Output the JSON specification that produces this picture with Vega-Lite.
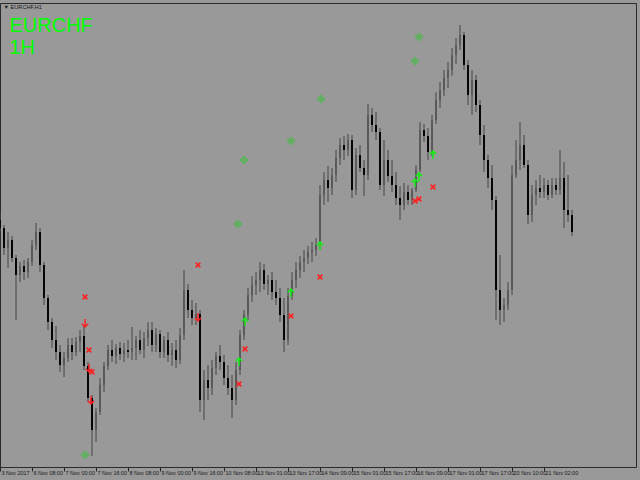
{
  "$schema": "https://vega.github.io/schema/vega-lite/v6.json",
  "width": 636,
  "height": 464,
  "autosize": {"type": "none"},
  "padding": {"left": 0, "right": 4, "top": 3, "bottom": 13},
  "background": "#999999",
  "config": {
    "view": {"stroke": "#2b2b2b", "strokeWidth": 1, "fill": "#999999"},
    "axisY": {
      "domain": false, "ticks": false, "labels": false, "grid": false,
      "titleAngle": 0,
      "titleAlign": "left",
      "titleBaseline": "alphabetic",
      "titleX": 9,
      "titleY": 28.5,
      "titleColor": "#00ff00",
      "titleFont": "Liberation Sans",
      "titleFontSize": 20,
      "titleFontWeight": "normal",
      "titleLineHeight": 22
    }
  },
  "datasets": {
    "candles": [
      {"i":0,"o":260,"h":268,"l":248,"c":252},
      {"i":2,"o":252,"h":255,"l":225,"c":232},
      {"i":4,"o":232,"h":248,"l":212,"c":240},
      {"i":6,"o":240,"h":244,"l":218,"c":222},
      {"i":8,"o":222,"h":225,"l":160,"c":205},
      {"i":10,"o":205,"h":218,"l":198,"c":214},
      {"i":12,"o":214,"h":220,"l":200,"c":208},
      {"i":14,"o":208,"h":222,"l":202,"c":218},
      {"i":16,"o":218,"h":240,"l":214,"c":235},
      {"i":18,"o":235,"h":257,"l":230,"c":248},
      {"i":20,"o":248,"h":252,"l":208,"c":215},
      {"i":22,"o":215,"h":218,"l":175,"c":182},
      {"i":24,"o":182,"h":185,"l":150,"c":158},
      {"i":26,"o":158,"h":162,"l":132,"c":140},
      {"i":28,"o":140,"h":154,"l":120,"c":128},
      {"i":30,"o":128,"h":135,"l":108,"c":115},
      {"i":32,"o":115,"h":128,"l":103,"c":122},
      {"i":34,"o":122,"h":142,"l":118,"c":135},
      {"i":36,"o":135,"h":142,"l":120,"c":128},
      {"i":38,"o":128,"h":143,"l":124,"c":138},
      {"i":40,"o":138,"h":150,"l":128,"c":144},
      {"i":42,"o":144,"h":155,"l":110,"c":114},
      {"i":44,"o":114,"h":118,"l":78,"c":82},
      {"i":46,"o":82,"h":85,"l":24,"c":50},
      {"i":48,"o":50,"h":72,"l":38,"c":68},
      {"i":50,"o":68,"h":102,"l":65,"c":95},
      {"i":52,"o":95,"h":118,"l":88,"c":114},
      {"i":54,"o":114,"h":135,"l":110,"c":130},
      {"i":56,"o":130,"h":140,"l":118,"c":124},
      {"i":58,"o":124,"h":136,"l":116,"c":132},
      {"i":60,"o":132,"h":138,"l":120,"c":126},
      {"i":62,"o":126,"h":137,"l":118,"c":130},
      {"i":64,"o":130,"h":140,"l":122,"c":128},
      {"i":66,"o":128,"h":153,"l":120,"c":132},
      {"i":68,"o":132,"h":144,"l":120,"c":140},
      {"i":70,"o":140,"h":150,"l":126,"c":130},
      {"i":72,"o":130,"h":148,"l":122,"c":142},
      {"i":74,"o":142,"h":158,"l":134,"c":150},
      {"i":76,"o":150,"h":158,"l":128,"c":135},
      {"i":78,"o":135,"h":152,"l":128,"c":146},
      {"i":80,"o":146,"h":150,"l":122,"c":128},
      {"i":82,"o":128,"h":144,"l":122,"c":140},
      {"i":84,"o":140,"h":148,"l":118,"c":125},
      {"i":86,"o":125,"h":137,"l":114,"c":130},
      {"i":88,"o":130,"h":140,"l":112,"c":120},
      {"i":90,"o":120,"h":152,"l":116,"c":145},
      {"i":92,"o":145,"h":210,"l":140,"c":190},
      {"i":94,"o":190,"h":196,"l":162,"c":170},
      {"i":96,"o":170,"h":180,"l":155,"c":162},
      {"i":98,"o":162,"h":177,"l":155,"c":166},
      {"i":100,"o":166,"h":170,"l":68,"c":80},
      {"i":102,"o":80,"h":110,"l":60,"c":100},
      {"i":104,"o":100,"h":115,"l":80,"c":92},
      {"i":106,"o":92,"h":120,"l":85,"c":112},
      {"i":108,"o":112,"h":128,"l":105,"c":124},
      {"i":110,"o":124,"h":135,"l":110,"c":118},
      {"i":112,"o":118,"h":125,"l":95,"c":102},
      {"i":114,"o":102,"h":115,"l":85,"c":92},
      {"i":116,"o":92,"h":105,"l":62,"c":80},
      {"i":118,"o":80,"h":118,"l":75,"c":110},
      {"i":120,"o":110,"h":150,"l":105,"c":145},
      {"i":122,"o":145,"h":170,"l":140,"c":165},
      {"i":124,"o":165,"h":192,"l":160,"c":185},
      {"i":126,"o":185,"h":204,"l":178,"c":195},
      {"i":128,"o":195,"h":208,"l":185,"c":200},
      {"i":130,"o":200,"h":218,"l":188,"c":210},
      {"i":132,"o":210,"h":216,"l":190,"c":196},
      {"i":134,"o":196,"h":205,"l":185,"c":200},
      {"i":136,"o":200,"h":208,"l":180,"c":188},
      {"i":138,"o":188,"h":200,"l":175,"c":182},
      {"i":140,"o":182,"h":192,"l":158,"c":165},
      {"i":142,"o":165,"h":182,"l":128,"c":140},
      {"i":144,"o":140,"h":192,"l":135,"c":184},
      {"i":146,"o":184,"h":208,"l":180,"c":200},
      {"i":148,"o":200,"h":218,"l":192,"c":210},
      {"i":150,"o":210,"h":224,"l":202,"c":218},
      {"i":152,"o":218,"h":230,"l":208,"c":222},
      {"i":154,"o":222,"h":234,"l":216,"c":228},
      {"i":156,"o":228,"h":238,"l":218,"c":230},
      {"i":158,"o":230,"h":242,"l":224,"c":235},
      {"i":160,"o":235,"h":295,"l":230,"c":285},
      {"i":162,"o":285,"h":308,"l":275,"c":300},
      {"i":164,"o":300,"h":314,"l":278,"c":292},
      {"i":166,"o":292,"h":312,"l":285,"c":305},
      {"i":168,"o":305,"h":330,"l":298,"c":322},
      {"i":170,"o":322,"h":342,"l":315,"c":335},
      {"i":172,"o":335,"h":344,"l":320,"c":330},
      {"i":174,"o":330,"h":346,"l":324,"c":340},
      {"i":176,"o":340,"h":345,"l":282,"c":290},
      {"i":178,"o":290,"h":332,"l":285,"c":325},
      {"i":180,"o":325,"h":335,"l":308,"c":312},
      {"i":182,"o":312,"h":320,"l":284,"c":305},
      {"i":184,"o":305,"h":376,"l":300,"c":365},
      {"i":186,"o":365,"h":372,"l":348,"c":355},
      {"i":188,"o":355,"h":368,"l":340,"c":348},
      {"i":190,"o":348,"h":352,"l":290,"c":295},
      {"i":192,"o":295,"h":340,"l":284,"c":320},
      {"i":194,"o":320,"h":330,"l":298,"c":304},
      {"i":196,"o":304,"h":320,"l":288,"c":295},
      {"i":198,"o":295,"h":308,"l":275,"c":282},
      {"i":200,"o":282,"h":294,"l":260,"c":275},
      {"i":202,"o":275,"h":297,"l":270,"c":288},
      {"i":204,"o":288,"h":295,"l":275,"c":280},
      {"i":206,"o":280,"h":292,"l":275,"c":290},
      {"i":208,"o":290,"h":315,"l":288,"c":310},
      {"i":210,"o":310,"h":358,"l":308,"c":350},
      {"i":212,"o":350,"h":356,"l":338,"c":344},
      {"i":214,"o":344,"h":352,"l":320,"c":328},
      {"i":216,"o":328,"h":365,"l":324,"c":360},
      {"i":218,"o":360,"h":388,"l":356,"c":380},
      {"i":220,"o":380,"h":398,"l":372,"c":390},
      {"i":222,"o":390,"h":410,"l":384,"c":402},
      {"i":224,"o":402,"h":418,"l":392,"c":410},
      {"i":226,"o":410,"h":432,"l":404,"c":425},
      {"i":228,"o":425,"h":442,"l":416,"c":435},
      {"i":230,"o":435,"h":455,"l":430,"c":445},
      {"i":232,"o":445,"h":448,"l":410,"c":415},
      {"i":234,"o":415,"h":420,"l":375,"c":385},
      {"i":236,"o":385,"h":410,"l":365,"c":400},
      {"i":238,"o":400,"h":405,"l":368,"c":375},
      {"i":240,"o":375,"h":380,"l":335,"c":345},
      {"i":242,"o":345,"h":355,"l":308,"c":320},
      {"i":244,"o":320,"h":325,"l":292,"c":302},
      {"i":246,"o":302,"h":315,"l":270,"c":280},
      {"i":248,"o":280,"h":284,"l":160,"c":190},
      {"i":250,"o":190,"h":225,"l":155,"c":170},
      {"i":252,"o":170,"h":182,"l":158,"c":175},
      {"i":254,"o":175,"h":198,"l":170,"c":190},
      {"i":256,"o":190,"h":315,"l":185,"c":305},
      {"i":258,"o":305,"h":340,"l":302,"c":320},
      {"i":260,"o":320,"h":358,"l":310,"c":335},
      {"i":262,"o":335,"h":345,"l":312,"c":315},
      {"i":264,"o":315,"h":320,"l":256,"c":265},
      {"i":266,"o":265,"h":295,"l":258,"c":285},
      {"i":268,"o":285,"h":300,"l":275,"c":292},
      {"i":270,"o":292,"h":305,"l":282,"c":288},
      {"i":272,"o":288,"h":302,"l":282,"c":295},
      {"i":274,"o":295,"h":300,"l":280,"c":285},
      {"i":276,"o":285,"h":302,"l":282,"c":295},
      {"i":278,"o":295,"h":302,"l":285,"c":290},
      {"i":280,"o":290,"h":330,"l":285,"c":302},
      {"i":282,"o":302,"h":318,"l":252,"c":270},
      {"i":284,"o":270,"h":305,"l":258,"c":265},
      {"i":286,"o":265,"h":270,"l":244,"c":248}
    ],
    "signals": [
      {"i":42.5,"v":183,"k":"Stop"},
      {"i":44.5,"v":130,"k":"Stop"},
      {"i":46,"v":108,"k":"Stop"},
      {"i":99,"v":215,"k":"Stop"},
      {"i":122.5,"v":131,"k":"Stop"},
      {"i":119.5,"v":96,"k":"Stop"},
      {"i":145.5,"v":164,"k":"Stop"},
      {"i":160,"v":203,"k":"Stop"},
      {"i":216.5,"v":293,"k":"Stop"},
      {"i":207.5,"v":279,"k":"Stop"},
      {"i":209.5,"v":281,"k":"Stop"},
      {"i":42.5,"v":157,"k":"Sell"},
      {"i":44.5,"v":112,"k":"Sell"},
      {"i":45.5,"v":80,"k":"Sell"},
      {"i":99,"v":163,"k":"Sell"},
      {"i":119.5,"v":118,"k":"Buy"},
      {"i":122.5,"v":158,"k":"Buy"},
      {"i":145.5,"v":187,"k":"Buy"},
      {"i":160,"v":234,"k":"Buy"},
      {"i":207.5,"v":297,"k":"Buy"},
      {"i":209.5,"v":303,"k":"Buy"},
      {"i":216.5,"v":325,"k":"Buy"},
      {"i":42.5,"v":25,"k":"Target"},
      {"i":119,"v":256,"k":"Target"},
      {"i":122,"v":320,"k":"Target"},
      {"i":145.5,"v":339,"k":"Target"},
      {"i":160.5,"v":381,"k":"Target"},
      {"i":207.5,"v":419,"k":"Target"},
      {"i":209.5,"v":443,"k":"Target"}
    ]
  },
  "encoding": {
    "x": {
      "field": "i", "type": "quantitative",
      "scale": {"domain": [0, 318], "nice": false, "zero": false},
      "axis": {
        "orient": "bottom",
        "title": "▼ EURCHF,H1",
        "titleX": 3,
        "titleY": -459,
        "titleAlign": "left",
        "titleAngle": 0,
        "titleBaseline": "alphabetic",
        "titleFont": "Liberation Sans",
        "titleFontSize": 5.6,
        "titleFontWeight": "normal",
        "titleColor": "#1a1a1a",
        "grid": false,
        "domain": false,
        "values": [0,16,32,48,64,80,96,112,128,144,160,176,192,208,224,240,256,272],
        "labelExpr": "['3 Nov 2017','6 Nov 08:00','7 Nov 00:00','7 Nov 16:00','8 Nov 08:00','9 Nov 00:00','9 Nov 16:00','10 Nov 08:00','13 Nov 01:00','13 Nov 17:00','14 Nov 09:00','15 Nov 01:00','15 Nov 17:00','16 Nov 09:00','17 Nov 01:00','17 Nov 17:00','20 Nov 10:00','21 Nov 02:00'][round(datum.value/16)]",
        "tickSize": 4,
        "tickColor": "#222222",
        "labelColor": "#1a1a1a",
        "labelFont": "Liberation Sans",
        "labelFontSize": 5.5,
        "labelAlign": "left",
        "labelBaseline": "middle",
        "labelPadding": 1,
        "labelOffset": 1,
        "labelOverlap": false,
        "labelFlush": false,
        "labelBound": false
      }
    },
    "y": {
      "field": "v", "type": "quantitative",
      "scale": {"domain": [13, 477], "nice": false, "zero": false},
      "axis": {"orient": "left", "title": ["EURCHF", "1H"]}
    }
  },
  "layer": [
    {
      "data": {"name": "candles"},
      "mark": {"type": "rule", "color": "#454545", "strokeWidth": 1, "clip": true},
      "encoding": {
        "y": {"field": "h", "type": "quantitative", "scale": {"domain": [13, 477], "nice": false, "zero": false}, "axis": {"orient": "left", "title": ["EURCHF", "1H"]}},
        "y2": {"field": "l"}
      }
    },
    {
      "data": {"name": "candles"},
      "mark": {"type": "rule", "strokeWidth": 2, "clip": true},
      "encoding": {
        "y": {"field": "o", "type": "quantitative", "scale": {"domain": [13, 477], "nice": false, "zero": false}, "axis": {"orient": "left", "title": ["EURCHF", "1H"]}},
        "y2": {"field": "c"},
        "color": {"condition": {"test": "datum.c < datum.o", "value": "#050505"}, "value": "#5a5a5a"}
      }
    },
    {
      "data": {"name": "signals"},
      "transform": [{"filter": "datum.k != 'Target'"}],
      "mark": {"type": "point", "filled": false, "size": 64, "strokeWidth": 1.5, "opacity": 1, "clip": true},
      "encoding": {
        "shape": {
          "field": "k", "type": "nominal",
          "scale": {
            "domain": ["Stop", "Sell", "Buy"],
            "range": [
              "M-0.6,-0.6L0.6,0.6M0.6,-0.6L-0.6,0.6",
              "M0,-1L0,1M-0.8,0.2L0,1L0.8,0.2",
              "M0,1L0,-1M-0.8,-0.2L0,-1L0.8,-0.2"
            ]
          },
          "legend": null
        },
        "color": {
          "field": "k", "type": "nominal",
          "scale": {"domain": ["Stop", "Sell", "Buy"], "range": ["#ff2020", "#ff2020", "#11ee11"]},
          "legend": null
        }
      }
    },
    {
      "data": {"name": "signals"},
      "transform": [{"filter": "datum.k == 'Target'"}],
      "mark": {"type": "point", "filled": false, "size": 56, "strokeWidth": 1, "opacity": 1, "clip": true, "color": "#3fbf3f",
        "shape": "M0,-1L1,0L0,1L-1,0ZM0,-1L0,1M-1,0L1,0"}
    }
  ]
}
